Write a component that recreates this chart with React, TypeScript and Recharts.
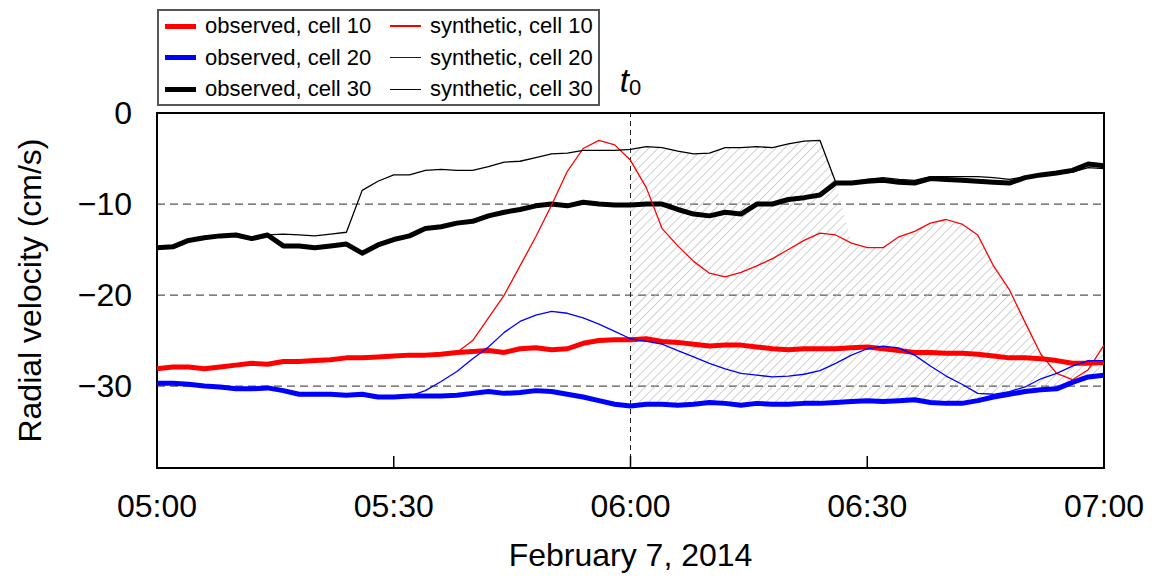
import React from "react";
import {
  ComposedChart,
  Line,
  Area,
  XAxis,
  YAxis,
  CartesianGrid,
  ReferenceLine,
  ReferenceArea,
} from "recharts";

// minutes after 05:00, sampled every 2 min
const minutes = [
  0, 2, 4, 6, 8, 10, 12, 14, 16, 18, 20, 22, 24, 26, 28, 30, 32, 34, 36, 38, 40,
  42, 44, 46, 48, 50, 52, 54, 56, 58, 60, 62, 64, 66, 68, 70, 72, 74, 76, 78, 80,
  82, 84, 86, 88, 90, 92, 94, 96, 98, 100, 102, 104, 106, 108, 110, 112, 114, 116,
  118, 120,
];

const timeTicks = [0, 30, 60, 90, 120];
const timeLabels = ["05:00", "05:30", "06:00", "06:30", "07:00"];
const velocityTicks = [-30, -20, -10, 0];
const velocityDomain = [-39, 0];
const t0 = 60;

// radial velocity, cm/s
const obs10 = [
  -28.1, -27.9, -27.9, -28.1, -27.9, -27.7, -27.5, -27.6, -27.3, -27.3, -27.2,
  -27.1, -26.9, -26.9, -26.8, -26.7, -26.6, -26.6, -26.5, -26.3, -26.2, -26.1,
  -26.3, -25.9, -25.8, -26.0, -25.9, -25.3, -25.0, -24.9, -24.9, -24.8, -25.1,
  -25.2, -25.4, -25.6, -25.5, -25.5, -25.7, -25.9, -26.0, -25.9, -25.9, -25.9,
  -25.8, -25.7, -25.9, -26.1, -26.3, -26.3, -26.4, -26.4, -26.5, -26.7, -26.9,
  -26.9, -27.0, -27.2, -27.5, -27.5, -27.4,
];
const obs20 = [
  -29.7, -29.7, -29.8, -30.0, -30.1, -30.3, -30.3, -30.2, -30.5, -30.9, -30.9,
  -30.9, -31.0, -30.9, -31.2, -31.2, -31.1, -31.1, -31.1, -31.0, -30.8, -30.6,
  -30.8, -30.7, -30.5, -30.6, -30.9, -31.2, -31.6, -32.0, -32.2, -32.0, -32.0,
  -32.1, -32.0, -31.8, -31.9, -32.1, -31.9, -32.0, -32.0, -31.9, -31.9, -31.8,
  -31.7, -31.6, -31.7, -31.6, -31.5, -31.8, -31.9, -31.9, -31.6, -31.2, -30.9,
  -30.6, -30.4, -30.3, -29.6, -29.0, -28.8,
];
const obs30 = [
  -14.8, -14.7, -14.0, -13.7, -13.5, -13.4, -13.8, -13.4, -14.6, -14.6, -14.8,
  -14.6, -14.4, -15.4, -14.5, -13.9, -13.5, -12.7, -12.5, -12.1, -11.9, -11.3,
  -10.9, -10.6, -10.2, -10.0, -10.2, -9.8, -10.0, -10.1, -10.1, -10.0, -10.0,
  -10.6, -11.1, -11.3, -10.9, -11.1, -10.0, -10.0, -9.5, -9.3, -9.0, -7.7, -7.7,
  -7.5, -7.4, -7.6, -7.7, -7.2, -7.3, -7.4, -7.5, -7.6, -7.7, -7.1, -6.8, -6.6,
  -6.3, -5.6, -5.8,
];
const syn10 = [
  -28.1, -27.9, -27.9, -28.1, -27.9, -27.7, -27.5, -27.6, -27.3, -27.3, -27.2,
  -27.1, -26.9, -26.9, -26.8, -26.7, -26.6, -26.6, -26.5, -26.3, -25.0, -22.5,
  -20.0, -16.8, -13.6, -10.1, -6.4, -3.9, -3.0, -3.5, -5.2, -8.2, -12.7, -14.6,
  -16.3, -17.6, -18.0, -17.5, -16.8, -16.0, -15.0, -14.0, -13.2, -13.4, -14.3,
  -14.8, -14.8, -13.6, -13.0, -12.1, -11.7, -12.2, -13.4, -16.8, -19.4, -23.0,
  -26.5, -28.6, -29.3, -28.2, -25.5,
];
const syn20 = [
  -29.7, -29.7, -29.8, -30.0, -30.1, -30.3, -30.3, -30.2, -30.5, -30.9, -30.9,
  -30.9, -31.0, -30.9, -31.2, -31.2, -31.1, -30.5, -29.5, -28.4, -27.0, -25.7,
  -24.1, -22.9, -22.2, -21.8, -22.0, -22.5, -23.2, -24.0, -24.8, -25.1, -25.4,
  -26.1, -26.8, -27.5, -28.1, -28.6, -28.8, -29.0, -28.9, -28.7, -28.3, -27.5,
  -26.6, -25.9, -25.6, -25.8, -26.6, -27.8, -28.9, -29.8, -30.8, -30.9, -30.6,
  -30.1, -29.2, -28.6, -27.8, -27.2, -27.2,
];
const syn30 = [
  -14.8, -14.7, -14.0, -13.7, -13.5, -13.4, -13.8, -13.4, -13.3, -13.4, -13.5,
  -13.3, -13.1, -8.5, -7.5, -6.8, -6.8, -6.3, -6.2, -6.3, -6.3, -5.9, -5.4, -5.3,
  -4.9, -4.5, -4.4, -4.1, -4.1, -4.1, -4.0, -3.7, -3.8, -4.2, -4.5, -4.4, -3.8,
  -3.8, -3.7, -3.8, -3.4, -3.1, -3.0, -7.6, -7.6, -7.3, -7.1, -7.3, -7.4, -7.0,
  -7.0, -7.0, -7.0, -7.1, -7.3, -7.0, -6.9, -6.7, -6.5, -6.0, -6.1,
];

const series = [
  { key: "obs10", name: "observed, cell 10", color: "#ff0000", width: 5 },
  { key: "obs20", name: "observed, cell 20", color: "#0000ff", width: 5 },
  { key: "obs30", name: "observed, cell 30", color: "#000000", width: 5 },
  { key: "syn10", name: "synthetic, cell 10", color: "#ff0000", width: 1.3 },
  { key: "syn20", name: "synthetic, cell 20", color: "#0000ff", width: 1.3 },
  { key: "syn30", name: "synthetic, cell 30", color: "#000000", width: 1.3 },
];

// hatched misfit region after t0: from the lowest observed trace up to the
// synthetic envelope (cell 30 until it rejoins the data, then cells 10/20)
const chartData = minutes.map((t, i) => ({
  t,
  obs10: obs10[i],
  obs20: obs20[i],
  obs30: obs30[i],
  syn10: syn10[i],
  syn20: syn20[i],
  syn30: syn30[i],
  misfit:
    t >= t0
      ? [obs20[i], t <= 86 ? syn30[i] : Math.max(syn10[i], syn20[i])]
      : null,
}));

// inner tick marks along the bottom of the frame (about 12 px long)
const innerTicks = timeTicks.slice(1, -1);
const tickLen = 1.32;

const FONT = "'Liberation Sans', Arial, Helvetica, sans-serif";

function formatVelocity(v: number) {
  return v < 0 ? `\u2212${Math.abs(v)}` : `${v}`;
}

function formatTime(v: number) {
  const i = timeTicks.indexOf(v);
  return i >= 0 ? timeLabels[i] : "";
}

function T0Label({ viewBox }: any) {
  return (
    <text x={viewBox.x} y={viewBox.y - 21} textAnchor="middle" fill="#000">
      <tspan fontStyle="italic" fontSize={33}>t</tspan>
      <tspan fontSize={22} dy={3}>0</tspan>
    </text>
  );
}

function YTitle({ viewBox }: any) {
  const x = viewBox.x + 30;
  const y = viewBox.y + viewBox.height / 2;
  return (
    <text
      x={x}
      y={y}
      transform={`rotate(-90 ${x} ${y})`}
      textAnchor="middle"
      dominantBaseline="central"
      fontSize={32}
      fill="#000"
    >
      Radial velocity (cm/s)
    </text>
  );
}

function XTitle({ viewBox }: any) {
  return (
    <text
      x={viewBox.x + viewBox.width / 2}
      y={viewBox.y + 98}
      textAnchor="middle"
      fontSize={32}
      fill="#000"
    >
      February 7, 2014
    </text>
  );
}

function LegendBox() {
  return (
    <div
      style={{
        position: "absolute",
        left: 157,
        top: 9,
        width: 443,
        height: 97,
        boxSizing: "border-box",
        border: "2px solid #555",
        background: "#fff",
        fontSize: 22,
        lineHeight: "22px",
        color: "#000",
      }}
    >
      {series.map((s, i) => {
        const col = Math.floor(i / 3);
        const row = i % 3;
        return (
          <div
            key={s.key}
            style={{
              position: "absolute",
              left: col === 0 ? 6 : 231,
              top: 4 + row * 31.7,
              display: "flex",
              alignItems: "center",
              whiteSpace: "nowrap",
            }}
          >
            <span
              style={{
                display: "inline-block",
                width: 31,
                height: s.width,
                background: s.color,
                marginRight: 9,
              }}
            />
            {s.name}
          </div>
        );
      })}
    </div>
  );
}

export default function App() {
  return (
    <div
      style={{
        position: "absolute",
        left: 0,
        top: 0,
        width: 1156,
        height: 579,
        background: "#fff",
        fontFamily: FONT,
      }}
    >
      <ComposedChart
        width={1156}
        height={579}
        data={chartData}
        margin={{ top: 113, right: 52, bottom: 0, left: 0 }}
      >
        <defs>
          <pattern
            id="hatch"
            patternUnits="userSpaceOnUse"
            width={6.4}
            height={6.4}
            patternTransform="rotate(45)"
          >
            <line x1={0} y1={0} x2={0} y2={6.4} stroke="#b8b8b8" strokeWidth={1.3} />
          </pattern>
        </defs>
        <CartesianGrid
          vertical={false}
          stroke="#555"
          strokeWidth={1.2}
          strokeDasharray="8 5"
        />
        <XAxis
          dataKey="t"
          type="number"
          domain={[0, 120]}
          ticks={timeTicks}
          tickFormatter={formatTime}
          height={111}
          tickSize={0}
          tickMargin={26}
          tick={{ fill: "#000", fontSize: 32 }}
          axisLine={false}
          tickLine={false}
          label={<XTitle />}
        />
        {/* top edge: mirrored so its tick marks point into the plot */}
        <XAxis
          xAxisId="top"
          dataKey="t"
          type="number"
          domain={[0, 120]}
          ticks={timeTicks}
          orientation="top"
          height={20}
          mirror
          tick={false}
          tickSize={12}
          axisLine={false}
          tickLine={{ stroke: "#000", strokeWidth: 1.5 }}
        />
        <YAxis
          domain={velocityDomain}
          ticks={velocityTicks}
          tickFormatter={formatVelocity}
          width={157}
          tickSize={0}
          tickMargin={25}
          tick={{ fill: "#000", fontSize: 32 }}
          axisLine={false}
          tickLine={false}
          label={<YTitle />}
        />
        <Area
          dataKey="misfit"
          type="linear"
          fill="url(#hatch)"
          fillOpacity={1}
          stroke="none"
          legendType="none"
          activeDot={false}
          isAnimationActive={false}
        />
        <ReferenceLine
          x={t0}
          stroke="#222"
          strokeWidth={1}
          strokeDasharray="5 4"
          label={<T0Label />}
        />
        {innerTicks.map((t) => (
          <ReferenceLine
            key={`b${t}`}
            segment={[
              { x: t, y: velocityDomain[0] },
              { x: t, y: velocityDomain[0] + tickLen },
            ]}
            ifOverflow="visible"
            stroke="#000"
            strokeWidth={1.5}
          />
        ))}
        {series.map((s) => (
          <Line
            key={s.key}
            dataKey={s.key}
            name={s.name}
            type="linear"
            stroke={s.color}
            strokeWidth={s.width}
            strokeLinejoin="round"
            dot={false}
            activeDot={false}
            isAnimationActive={false}
          />
        ))}
        <ReferenceArea
          x1={0}
          x2={120}
          y1={velocityDomain[0]}
          y2={velocityDomain[1]}
          fill="none"
          fillOpacity={0}
          stroke="#000"
          strokeWidth={2}
        />
      </ComposedChart>
      <LegendBox />
    </div>
  );
}
